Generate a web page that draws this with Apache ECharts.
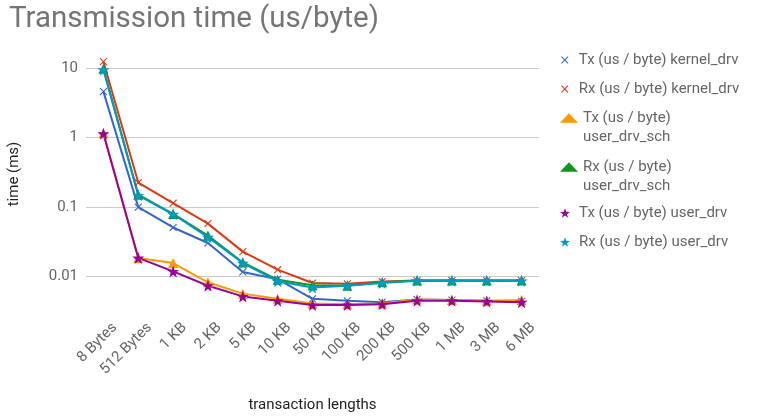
<!DOCTYPE html>
<html>
<head>
<meta charset="utf-8">
<script src="https://cdn.jsdelivr.net/npm/echarts@6/dist/echarts.min.js"></script>
<style>
  html, body { margin: 0; padding: 0; background: #fff; }
  #chart { width: 757px; height: 416px; }
</style>
</head>
<body>
<div id="chart"></div>
<script>
const categories = ['8 Bytes', '512 Bytes', '1 KB', '2 KB', '5 KB', '10 KB', '50 KB',
  '100 KB', '200 KB', '500 KB', '1 MB', '3 MB', '6 MB'];

const txKernel = [4.6, 0.1, 0.051, 0.0305, 0.0117, 0.0092, 0.0048, 0.0045, 0.0043, 0.0047, 0.0046, 0.0045, 0.0044];
const rxKernel = [12.4, 0.226, 0.114, 0.058, 0.0229, 0.0126, 0.0081, 0.0079, 0.0085, 0.0088, 0.0088, 0.0088, 0.0088];
const txUserSch = [1.16, 0.0186, 0.0157, 0.0083, 0.0057, 0.0048, 0.0041, 0.0040, 0.0041, 0.0047, 0.0046, 0.0045, 0.0046];
const rxUserSch = [9.8, 0.151, 0.080, 0.039, 0.016, 0.0090, 0.0075, 0.0074, 0.0083, 0.0088, 0.0088, 0.0088, 0.0088];
const txUser = [1.14, 0.0186, 0.0119, 0.0074, 0.0052, 0.0045, 0.0039, 0.0039, 0.0040, 0.0045, 0.0045, 0.0044, 0.0043];
const rxUser = [9.5, 0.148, 0.079, 0.037, 0.0157, 0.0086, 0.0070, 0.0074, 0.0081, 0.0087, 0.0087, 0.0087, 0.0087];

const yTicks = [0.01, 0.1, 1, 10];

// thin x cross, with a little empty room around it so it draws smaller than its box
const xMark = 'path://M-1.5,-1.5ZM11.5,11.5ZM1,0L5,4L9,0L10,1L6,5L10,9L9,10L5,6L1,10L0,9L4,5L0,1Z';
const starMark = 'path://M10,0L12.35,6.76L19.51,6.91L13.8,11.24L15.88,18.09L10,14L4.12,18.09L6.2,11.24L0.49,6.91L7.65,6.76Z';

const seriesDefs = [
  { name: 'Tx (us / byte) kernel_drv', data: txKernel, color: '#3366cc', symbol: xMark, size: 10 },
  { name: 'Rx (us / byte) kernel_drv', data: rxKernel, color: '#dc3912', symbol: xMark, size: 10 },
  { name: 'Tx (us / byte) user_drv_sch', data: txUserSch, color: '#ff9900', symbol: 'triangle', size: 10 },
  { name: 'Rx (us / byte) user_drv_sch', data: rxUserSch, color: '#109618', symbol: 'triangle', size: 10 },
  { name: 'Tx (us / byte) user_drv', data: txUser, color: '#990099', symbol: starMark, size: 12 },
  { name: 'Rx (us / byte) user_drv', data: rxUser, color: '#0099c6', symbol: starMark, size: 12 }
];

const font = 'Roboto';

function makeLegend(defs, top, wrapped) {
  return {
    orient: 'vertical',
    left: 560,
    top: top,
    padding: 0,
    itemGap: 10,
    itemWidth: 18,
    itemHeight: 9.5,
    data: defs.map(d => ({ name: d.name, icon: d.symbol })),
    selectedMode: false,
    // empty first line keeps the icon level with the first line of a wrapped name
    formatter: name => wrapped ? '\n' + name.replace(' user_drv_sch', '\nuser_drv_sch') : name,
    textStyle: { color: '#666', fontSize: 15, fontFamily: font, lineHeight: 19 }
  };
}

const chart = echarts.init(document.getElementById('chart'), null, { renderer: 'canvas' });

chart.setOption({
  animation: false,
  title: {
    text: 'Transmission time (us/byte)',
    left: 4,
    top: 0,
    textStyle: { color: '#757575', fontSize: 29.5, fontWeight: 'normal', fontFamily: font }
  },
  legend: [
    makeLegend([seriesDefs[0], seriesDefs[1]], 50.5, false),
    makeLegend([seriesDefs[2]], 89.5, true),
    makeLegend([seriesDefs[3]], 138.5, true),
    makeLegend([seriesDefs[4], seriesDefs[5]], 203.5, false)
  ],
  grid: { left: 86, right: 218, top: 35, bottom: 103, outerBoundsMode: 'none', containLabel: false },
  xAxis: {
    type: 'category',
    data: categories,
    boundaryGap: true,
    name: 'transaction lengths',
    nameLocation: 'middle',
    nameGap: 85,
    nameTextStyle: { color: '#222', fontSize: 15, fontFamily: font },
    axisLine: { show: false },
    axisTick: { show: false },
    axisLabel: {
      rotate: 45, margin: 1, verticalAlign: 'top', lineHeight: 32,
      color: '#666', fontSize: 15, fontFamily: font, interval: 0
    },
    splitLine: { show: false }
  },
  yAxis: {
    type: 'log',
    logBase: 10,
    min: 0.003,
    max: 30,
    name: 'time (ms)',
    nameLocation: 'middle',
    nameGap: 64,
    nameTextStyle: { color: '#222', fontSize: 15, fontFamily: font },
    axisLine: { show: false },
    axisTick: { show: false },
    axisLabel: {
      margin: 8,
      color: '#666',
      fontSize: 15,
      fontFamily: font,
      showMinLabel: false,
      showMaxLabel: false,
      formatter: v => {
        const t = yTicks.find(k => Math.abs(Math.log10(k) - Math.log10(v)) < 1e-6);
        return t !== undefined ? String(t) : '';
      }
    },
    splitLine: { show: true, showMinLine: false, showMaxLine: false, lineStyle: { color: '#ccc', width: 1 } }
  },
  series: seriesDefs.map(s => ({
    name: s.name,
    type: 'line',
    data: s.data,
    symbol: s.symbol,
    symbolSize: s.size,
    showAllSymbol: true,
    lineStyle: { color: s.color, width: 2 },
    itemStyle: { color: s.color, borderWidth: 0 },
    emphasis: { disabled: true }
  }))
});
</script>
</body>
</html>
